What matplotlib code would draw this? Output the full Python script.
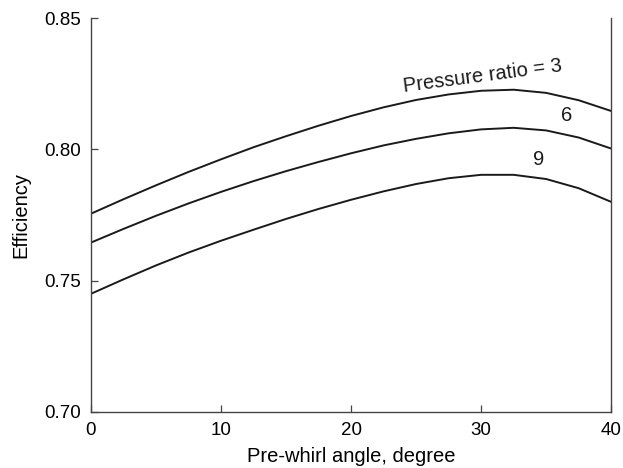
import matplotlib.pyplot as plt

# Pre-whirl angle (degree) and efficiency for each pressure ratio
angle = [0, 2.5, 5, 7.5, 10, 12.5, 15, 17.5, 20, 22.5, 25, 27.5, 30, 32.5, 35, 37.5, 40]
eff_pr3 = [0.7755, 0.7810, 0.7863, 0.7914, 0.7962, 0.8008, 0.8050, 0.8090, 0.8127,
           0.8160, 0.8188, 0.8209, 0.8223, 0.8227, 0.8215, 0.8187, 0.8146]
eff_pr6 = [0.7645, 0.7697, 0.7747, 0.7794, 0.7838, 0.7879, 0.7917, 0.7952, 0.7985,
           0.8015, 0.8040, 0.8061, 0.8076, 0.8082, 0.8072, 0.8045, 0.8003]
eff_pr9 = [0.7450, 0.7505, 0.7558, 0.7607, 0.7652, 0.7694, 0.7735, 0.7773, 0.7808,
           0.7840, 0.7868, 0.7890, 0.7903, 0.7903, 0.7887, 0.7852, 0.7800]

x_ticks = [0, 10, 20, 30, 40]
y_ticks = [0.70, 0.75, 0.80, 0.85]

plt.rcParams['font.family'] = ['Liberation Sans', 'DejaVu Sans']

fig = plt.figure(figsize=(6.23, 4.68), dpi=100)
ax = fig.add_axes([0.146, 0.1197, 0.835, 0.8418])

for eff in (eff_pr3, eff_pr6, eff_pr9):
    ax.plot(angle, eff, color='#1a1a1a', lw=1.4, solid_joinstyle='round')

# curve labels
ax.text(30.1, 0.8280, 'Pressure ratio = 3', fontsize=14.5, rotation=7.5,
        ha='center', va='center', color='#1a1a1a')
ax.text(36.6, 0.8127, '6', fontsize=14.5, ha='center', va='center', color='#1a1a1a')
ax.text(34.4, 0.7960, '9', fontsize=14.5, ha='center', va='center', color='#1a1a1a')

ax.set_xlim(0, 40)
ax.set_ylim(0.70, 0.85)
ax.set_xticks(x_ticks)
ax.set_yticks(y_ticks)
ax.set_yticklabels([f'{v:.2f}' for v in y_ticks])
ax.tick_params(direction='in', length=5, width=0.9, color='#444444',
               labelsize=13.5, pad=7)

ax.spines['top'].set_visible(False)
for s in ('left', 'bottom', 'right'):
    ax.spines[s].set_color('#444444')
    ax.spines[s].set_linewidth(1.0)

ax.set_xlabel('Pre-whirl angle, degree', fontsize=14.5, labelpad=6)
ax.set_ylabel('Efficiency', fontsize=14.5, labelpad=10)

fig.savefig('out.png', dpi=100)
